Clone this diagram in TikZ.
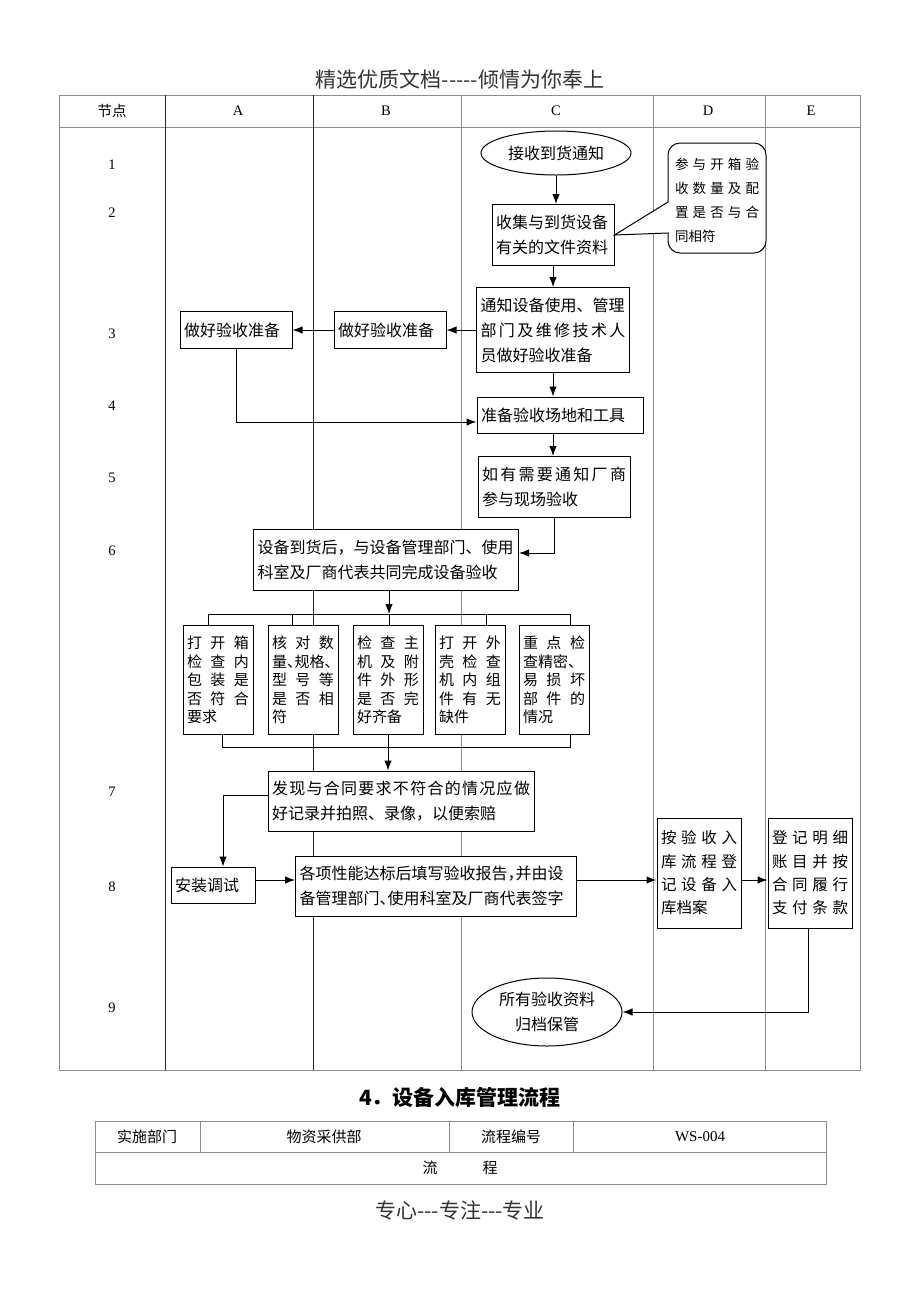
\documentclass[tikz,border=0pt]{standalone}
\usepackage{fontspec}
\setmainfont{Liberation Serif}
\newfontfamily\cjk{Noto Sans CJK SC}
\usetikzlibrary{arrows.meta,shapes.geometric}

% narrow punctuation and letter-spaced lines
\newcommand\dun{\makebox[0.5em][l]{、}}
\newcommand\dou{\makebox[0.5em][l]{，}}
\newcommand\spreadline[1]{\spreadfirst#1\relax}
\def\spreadfirst#1{#1\spreadrest}
\def\spreadrest#1{\ifx#1\relax\else\hfill#1\expandafter\spreadrest\fi}

\tikzset{
  lane/.style={draw=black!45, line width=1pt},
  box/.style={draw, fill=white, line width=1pt, align=left, inner xsep=4pt, inner ysep=3pt,
    font=\cjk\fontsize{16}{25}\selectfont},
  chk/.style={box, text width=62pt, minimum height=109pt, font=\cjk\fontsize{15}{18.5}\selectfont},
  side/.style={box, text width=76pt, minimum height=110pt, font=\cjk\fontsize{15.5}{23.3}\selectfont},
  oval/.style={ellipse, draw, fill=white, line width=1pt, inner sep=0pt, align=center,
    font=\cjk\fontsize{16}{25}\selectfont},
  arr/.style={-{Latex[length=10pt,width=7.5pt]}, line width=1pt},
  lbl/.style={font=\fontsize{14.5}{16}\selectfont},
  cell/.style={font=\cjk\fontsize{15}{17}\selectfont}
}

\begin{document}
\begin{tikzpicture}[x=1pt,y=-1pt]
  \useasboundingbox (0,0) rectangle (920,1302);
  \node[font=\cjk\fontsize{21}{24}\selectfont, text=black!80] (title) at (460,79) {精选优质文档-----倾情为你奉上};

  % lanes
  \draw[lane] (59,95) rectangle (860,1070);
  \draw[lane] (59,127) -- (860,127);
  \foreach \x in {165,313,461,653,765} \draw[lane] (\x,95) -- (\x,1070);
  \draw[line width=1pt, black!85] (165,95) -- (165,1070) (313,95) -- (313,1070);

  \node[lbl, font=\cjk\fontsize{14.5}{16}\selectfont] (hd0) at (112,111) {节点};
  \node[lbl] (hdA) at (238,111) {A};
  \node[lbl] (hdB) at (386,111) {B};
  \node[lbl] (hdC) at (556,111) {C};
  \node[lbl] (hdD) at (708,111) {D};
  \node[lbl] (hdE) at (811,111) {E};
  \foreach \n/\y in {1/165,2/213,3/334,4/406,5/478,6/551,7/792,8/887,9/1008}
    \node[lbl] (row\n) at (112,\y) {\n};

  % steps
  \node[oval, minimum width=150pt, minimum height=44pt] (recv) at (556,153) {接收到货通知};
  \node[box, text width=114pt, minimum height=61pt] (docs) at (553,235) {收集与到货设备\\有关的文件资料};
  \node[box, text width=145pt, minimum height=85pt] (notify) at (553,330)
    {通知设备使用、管理\\\spreadline{部门及维修技术人}\\员做好验收准备};
  \node[box, text width=104pt, minimum height=37pt] (prepB) at (390,330) {做好验收准备};
  \node[box, text width=104pt, minimum height=37pt] (prepA) at (236,330) {做好验收准备};
  \node[box, text width=158pt, minimum height=36pt] (site) at (560,415) {准备验收场地和工具};
  \node[box, text width=144pt, minimum height=61pt] (vendor) at (554,487)
    {\spreadline{如有需要通知厂商}\\参与现场验收};
  \node[box, text width=257pt, minimum height=61pt] (accept) at (386,560)
    {设备到货后，与设备管理部门、使用\\科室及厂商代表共同完成设备验收};

  \node[chk] (chk1) at (218,680) {\spreadline{打开箱}\\\spreadline{检查内}\\\spreadline{包装是}\\\spreadline{否符合}\\要求};
  \node[chk] (chk2) at (303,680) {\spreadline{核对数}\\量\dun{}规格\dun\\\spreadline{型号等}\\\spreadline{是否相}\\符};
  \node[chk] (chk3) at (388,680) {\spreadline{检查主}\\\spreadline{机及附}\\\spreadline{件外形}\\\spreadline{是否完}\\好齐备};
  \node[chk] (chk4) at (470,680) {\spreadline{打开外}\\\spreadline{壳检查}\\\spreadline{机内组}\\\spreadline{件有无}\\缺件};
  \node[chk] (chk5) at (554,680) {\spreadline{重点检}\\查精密\dun\\\spreadline{易损坏}\\\spreadline{部件的}\\情况};

  \node[box, text width=258pt, minimum height=60pt] (found) at (401,801)
    {\spreadline{发现与合同要求不符合的情况应做}\\好记录并拍照、录像，以便索赔};
  \node[box, text width=76pt, minimum height=36pt] (setup) at (213,885) {安装调试};
  \node[box, text width=273pt, minimum height=60pt] (report) at (436,886)
    {各项性能达标后填写验收报告\dou{}并由设\\备管理部门\dun{}使用科室及厂商代表签字};
  \node[side] (filing) at (699,873) {\spreadline{按验收入}\\\spreadline{库流程登}\\\spreadline{记设备入}\\库档案};
  \node[side] (ledger) at (810,873) {\spreadline{登记明细}\\\spreadline{账目并按}\\\spreadline{合同履行}\\\spreadline{支付条款}};
  \node[oval, minimum width=150pt, minimum height=68pt] (archive) at (547,1012) {所有验收资料\\归档保管};

  % callout
  \draw[line width=1pt, fill=white] (668,202) -- (docs.east) -- (668,233)
    {[rounded corners=12pt] -- (668,253) -- (766,253) -- (766,143) -- (668,143)} -- cycle;
  \node[font=\cjk\fontsize{13.5}{24}\selectfont, text width=84pt, align=left] (note) at (717,200)
    {\spreadline{参与开箱验}\\\spreadline{收数量及配}\\\spreadline{置是否与合}\\同相符};

  % flow
  \draw[arr] (recv.south) -- (recv.south |- docs.north);
  \draw[arr] (docs.south) -- (docs.south |- notify.north);
  \draw[arr] (notify.south) -- (notify.south |- site.north);
  \draw[arr] (notify.south |- site.south) -- (notify.south |- vendor.north);
  \draw[arr] (notify.west) -- (prepB.east);
  \draw[arr] (prepB.west) -- (prepA.east);
  \draw[arr] (prepA.south) |- ([yshift=-7pt]site.west);
  \draw[arr] (vendor.south) |- ([yshift=7pt]accept.east);

  \foreach \n/\x in {1/208,2/292,3/389,4/486,5/570} {
    \coordinate (t\n) at (\x,614);
    \draw[line width=1pt] (t\n) -- (chk\n.north -| t\n);
  }
  \draw[line width=1pt] (t1) -- (t5);
  \draw[arr] (accept.south -| t3) -- (t3);
  \coordinate (b1) at (222,747);
  \coordinate (b5) at (570,747);
  \draw[line width=1pt] (chk1.south -| b1) -- (b1) -- (b5) -- (chk5.south -| b5);
  \draw[arr] (chk3.south) -- (chk3.south |- found.north);

  \draw[arr] ([yshift=6pt]found.west) -| ([xshift=10pt]setup.north);
  \draw[arr] ([yshift=5pt]setup.east) -- ([yshift=5pt]setup.east -| report.west);
  \draw[arr] ([yshift=6pt]report.east) -- ([yshift=6pt]report.east -| filing.west);
  \draw[arr] ([yshift=6pt]report.east -| filing.east) -- ([yshift=6pt]report.east -| ledger.west);
  \draw[arr] ([xshift=-2pt]ledger.south) |- (archive.east);

  % heading and form below
  \node[font=\cjk\bfseries\fontsize{21}{24}\selectfont] (head) at (460,1097) {4．设备入库管理流程};
  \draw[lane] (95,1121) rectangle (826,1184);
  \draw[lane] (95,1152) -- (826,1152);
  \foreach \x in {200,449,573} \draw[lane] (\x,1121) -- (\x,1152);
  \node[cell] (dept) at (147,1137) {实施部门};
  \node[cell] (deptv) at (324,1137) {物资采供部};
  \node[cell] (code) at (511,1137) {流程编号};
  \node[cell, font=\fontsize{15}{17}\selectfont] (codev) at (700,1137) {WS-004};
  \node[cell] (flow) at (460,1168) {流\hspace{3em}程};
  \node[font=\cjk\fontsize{21}{24}\selectfont, text=black!80] (foot) at (460,1210) {专心---专注---专业};
\end{tikzpicture}
\end{document}
